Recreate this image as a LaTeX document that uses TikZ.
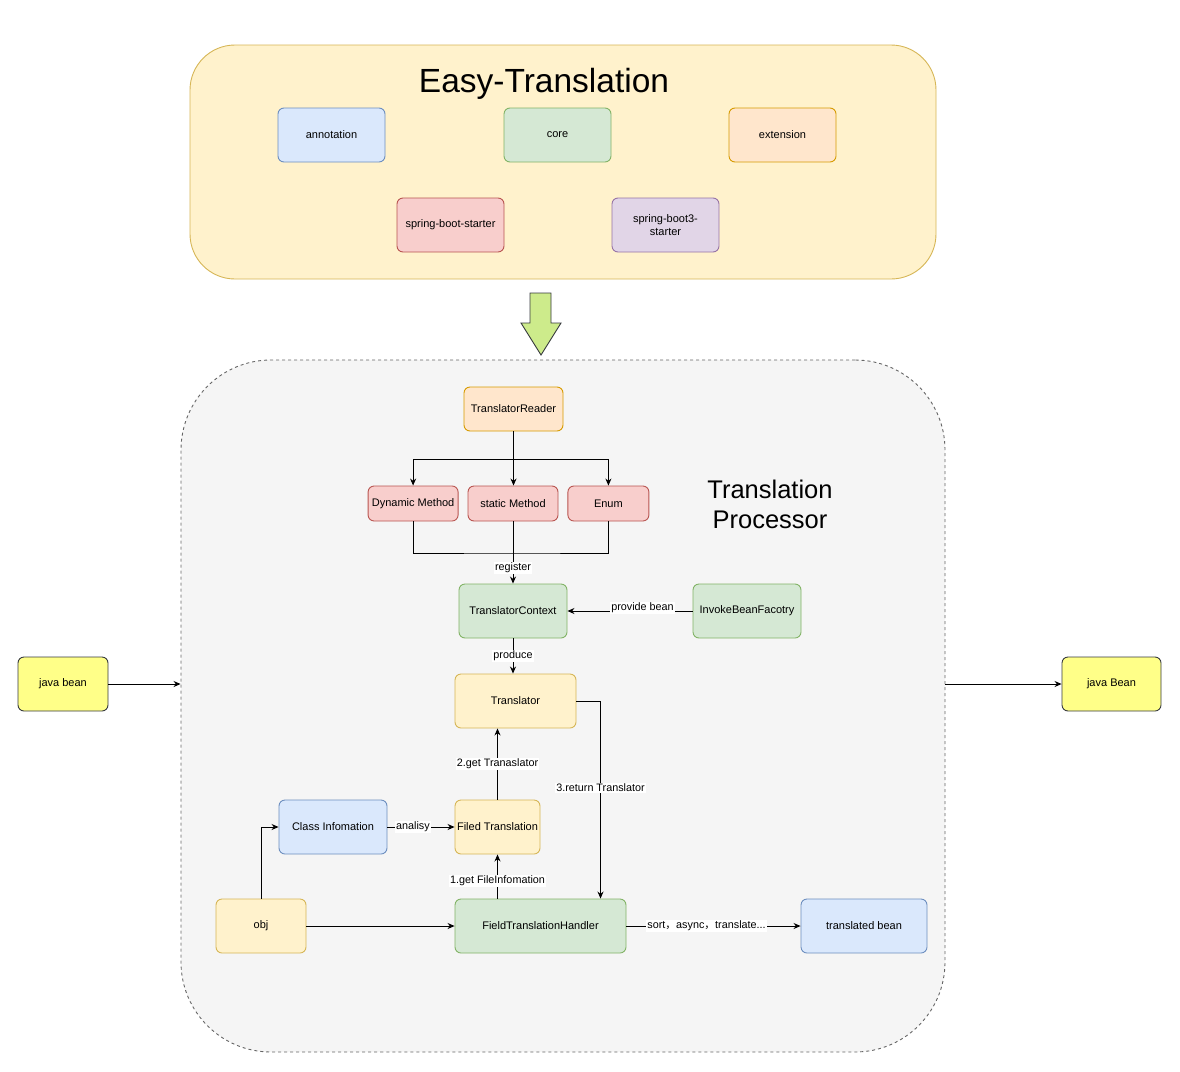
\documentclass[tikz,border=0pt]{standalone}
\usepackage{fontspec}
\setmainfont{Liberation Sans}
\newfontfamily\cjk{Noto Sans CJK SC}
\usetikzlibrary{arrows.meta, positioning}
\definecolor{ylfill}{HTML}{FFF2CC}
\definecolor{yldraw}{HTML}{D6B656}
\definecolor{blfill}{HTML}{DAE8FC}
\definecolor{bldraw}{HTML}{6C8EBF}
\definecolor{gnfill}{HTML}{D5E8D4}
\definecolor{gndraw}{HTML}{82B366}
\definecolor{orfill}{HTML}{FFE6CC}
\definecolor{ordraw}{HTML}{D79B00}
\definecolor{rdfill}{HTML}{F8CECC}
\definecolor{rddraw}{HTML}{B85450}
\definecolor{pufill}{HTML}{E1D5E7}
\definecolor{pudraw}{HTML}{9673A6}
\definecolor{jbfill}{HTML}{FFFF88}
\definecolor{dark}{HTML}{36393D}
\definecolor{lime}{HTML}{CDEB8B}
\definecolor{procfill}{HTML}{F5F5F5}
\definecolor{procdraw}{HTML}{666666}

\begin{document}
\begin{tikzpicture}[
  x=1pt, y=-1pt,
  box/.style   = {rectangle, rounded corners=6pt, minimum height=54pt, inner sep=2pt,
                  line width=0.9pt, align=center, font=\fontsize{11}{12.5}\selectfont},
  bluebox/.style   = {box, draw=bldraw, fill=blfill},
  greenbox/.style  = {box, draw=gndraw, fill=gnfill},
  orangebox/.style = {box, draw=ordraw, fill=orfill},
  redbox/.style    = {box, draw=rddraw, fill=rdfill},
  purplebox/.style = {box, draw=pudraw, fill=pufill},
  yellowbox/.style = {box, draw=yldraw, fill=ylfill},
  beanbox/.style   = {box, draw=dark, fill=jbfill, minimum width=90pt},
  lbl/.style   = {fill=white, inner sep=1pt, font=\fontsize{10.8}{12}\selectfont},
  arr/.style   = {-{Stealth[length=7pt,width=6pt]}, black, line width=0.9pt},
  line/.style  = {black, line width=0.9pt}
]
\useasboundingbox (0,0) rectangle (1180,1071);

% modules
\node[draw=yldraw, fill=ylfill, line width=0.9pt, rounded corners=45pt, minimum width=746pt, minimum height=234pt] (lib) at (563,162) {};
\node[font=\fontsize{33.5}{38}\selectfont] (libtitle) at (544,84) {Easy-Translation};
\node[bluebox,   minimum width=107pt] (annot) at (331.5,135) {annotation};
\node[greenbox,  minimum width=107pt] (core)  at (557.5,135) {core};
\node[orangebox, minimum width=107pt] (ext)   at (782.5,135) {extension};
\node[redbox,    minimum width=107pt] (sbs)   at (450.5,225) {spring-boot-starter};
\node[purplebox, minimum width=107pt, text width=80pt] (sbs3) at (665.5,225) {spring-boot3-\\starter};

% big arrow
\draw[draw=dark, fill=lime, line width=0.9pt]
  (530,293) -- (551,293) -- (551,323) -- (561,323) -- (541,355) -- (521,323) -- (530,323) -- cycle;

% processor
\node[draw=procdraw, fill=procfill, dashed, line width=0.9pt, rounded corners=90pt, minimum width=764pt, minimum height=692pt] (proc) at (563,706) {};
\node[font=\fontsize{25.5}{30}\selectfont, align=center] (proctitle) at (770,504) {Translation\\Processor};

\node[orangebox, minimum width=99pt, minimum height=44pt] (reader) at (513.5,409) {TranslatorReader};
\node[redbox, minimum width=90pt, minimum height=35pt] (stat) at (513,503.5) {static Method};
\node[redbox, minimum width=90pt, minimum height=35pt, left=9pt of stat] (dyn) {Dynamic Method};
\node[redbox, minimum width=81pt, minimum height=35pt, right=9pt of stat] (enum) {Enum};
\node[greenbox, minimum width=108pt] (ctx) at (513,611) {TranslatorContext};
\node[greenbox, minimum width=108pt] (invoke) at (747,611) {InvokeBeanFacotry};
\node[yellowbox, minimum width=121pt] (trans) at (515.5,701) {Translator};
\node[yellowbox, minimum width=85pt] (filed) at (497.5,827) {Filed Translation};
\node[bluebox, minimum width=108pt] (classinfo) at (333,827) {Class Infomation};
\node[yellowbox, minimum width=90pt] (obj) at (261,926) {obj};
\node[greenbox, minimum width=171pt] (handler) at (540.5,926) {FieldTranslationHandler};
\node[bluebox, minimum width=126pt] (done) at (864,926) {translated bean};

\node[beanbox] (jin) at (63,684) {java bean};
\node[beanbox, minimum width=99pt] (jout) at (1111.5,684) {java Bean};

\coordinate (merge) at (513,553);

\draw[arr] (reader.south) -- ++(0,28) coordinate (fork) -| (dyn.north);
\draw[arr] (fork) -| (enum.north);
\draw[arr] (reader.south) -- (reader.south |- stat.north);
\draw[line] (dyn.south) |- (merge) -| (enum.south);
\draw[arr] (stat.south) -- node[lbl, pos=0.75] {register} (stat.south |- ctx.north);
\draw[arr] (invoke.west) -- node[lbl, pos=0.4, yshift=3pt] {provide bean} (ctx.east);
\draw[arr] (ctx.south) -- node[lbl] {produce} (ctx.south |- trans.north);
\draw[arr] (trans.east) -| node[lbl, pos=0.72] {3.return Translator} ([xshift=60pt]handler.north);
\draw[arr] (filed.north) -- node[lbl] {2.get Tranaslator} (filed.north |- trans.south);
\draw[arr] (filed.south |- handler.north) -- node[lbl, pos=0.4] {1.get FileInfomation} (filed.south);
\draw[arr] (classinfo) -- node[lbl, pos=0.38] {analisy} (filed);
\draw[arr] (obj.north) |- (classinfo.west);
\draw[arr] (obj) -- (handler);
\draw[arr] (handler) -- node[lbl, pos=0.46] {sort{\cjk ，}async{\cjk ，}translate...} (done);
\draw[arr] (jin.east) -- (jin.east -| proc.west);
\draw[arr] (jout.west -| proc.east) -- (jout.west);
\end{tikzpicture}
\end{document}
